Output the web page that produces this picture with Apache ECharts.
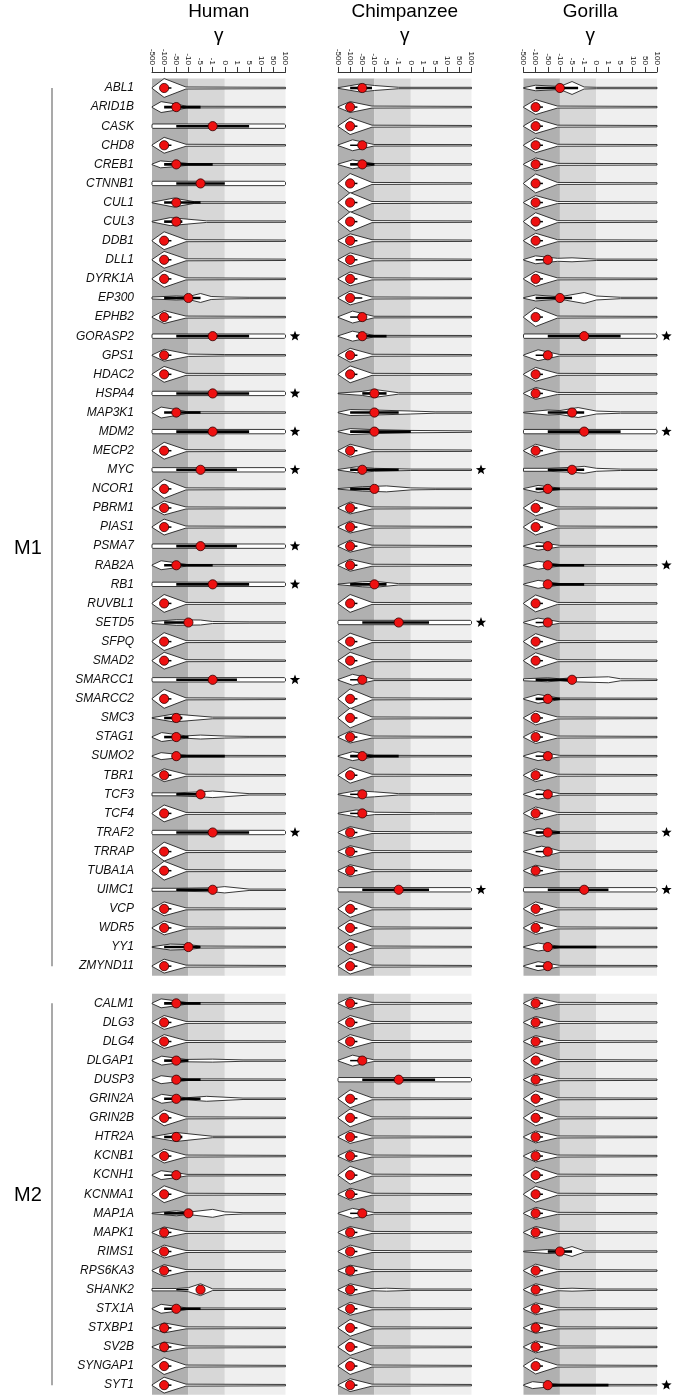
<!DOCTYPE html>
<html><head><meta charset="utf-8">
<script src="https://cdn.jsdelivr.net/npm/echarts@6/dist/echarts.min.js"></script>
<style>html,body{margin:0;padding:0;background:#fff}#c{width:675px;height:1399px}</style>
</head><body><div id="c"></div>
<script>
// ---------- data ----------
const TICKS = [-500,-100,-50,-10,-5,-1,0,1,5,10,50,100];
const TICK_LABELS = ['-500','-100','-50','-10','-5','-1','0','1','5','10','50','100'];
const SPECIES = ['Human','Chimpanzee','Gorilla'];
const MODULES = ['M1','M2'];
const BANDS = [[-500,-10],[-10,0],[0,100]];
const GENES_M1 = ['ABL1','ARID1B','CASK','CHD8','CREB1','CTNNB1','CUL1','CUL3','DDB1','DLL1','DYRK1A','EP300','EPHB2','GORASP2','GPS1','HDAC2','HSPA4','MAP3K1','MDM2','MECP2','MYC','NCOR1','PBRM1','PIAS1','PSMA7','RAB2A','RB1','RUVBL1','SETD5','SFPQ','SMAD2','SMARCC1','SMARCC2','SMC3','STAG1','SUMO2','TBR1','TCF3','TCF4','TRAF2','TRRAP','TUBA1A','UIMC1','VCP','WDR5','YY1','ZMYND11'];
const GENES_M2 = ['CALM1','DLG3','DLG4','DLGAP1','DUSP3','GRIN2A','GRIN2B','HTR2A','KCNB1','KCNH1','KCNMA1','MAP1A','MAPK1','RIMS1','RPS6KA3','SHANK2','STX1A','STXBP1','SV2B','SYNGAP1','SYT1'];

// density profile templates: [gamma, relative half-width]
const SHAPES = {
  D: [[-500,.03],[-100,1],[-18,.1],[100,.07]],
  K: [[-500,.03],[-90,1],[-12,.08],[100,.07]],
  A: [[-500,.03],[-200,1],[-50,.55],[-15,.08],[100,.07]],
  S: [[-500,.12],[-480,.22],[95,.22],[100,.12]]
};
// each entry: [profile, scale, median, q1, q3]
const HUMAN_M1 = [
 ['D',.95,-100,-100,-70],
 ['A',.55,-50,-100,-5],
 ['S',1,-1,-50,5],
 ['D',.8,-100,-100,-70],
 [[[-500,.03],[-220,.35],[-50,.22],[-10,.08],[100,.07]],1,-50,-100,-1],
 ['S',1,-5,-50,0],
 [[[-500,.03],[-60,.45],[-7.5,.08],[100,.07]],1,-50,-100,-5],
 [[[-500,.03],[-75,.4],[-3,.08],[100,.07]],1,-50,-100,-30],
 ['D',.9,-100,-100,-70],
 ['D',.85,-100,-100,-70],
 ['D',.85,-100,-100,-70],
 [[[-500,.1],[-50,.2],[-10,.15],[-5,.45],[-1.5,.15],[0,.1],[5,.07],[100,.07]],1,-10,-100,-5],
 ['D',.65,-100,-100,-70],
 ['S',1,-1,-50,5],
 [[[-500,.03],[-100,.6],[-10,.12],[0,.07],[100,.07]],1,-100,-100,-70],
 ['D',.8,-100,-100,-70],
 ['S',1,-1,-50,5],
 ['A',.55,-50,-100,-5],
 ['S',1,-1,-50,5],
 ['D',.85,-100,-100,-70],
 ['S',1,-5,-50,1],
 ['D',.95,-100,-100,-70],
 ['D',.7,-100,-100,-70],
 ['D',.8,-100,-100,-70],
 ['S',1,-5,-50,1],
 ['A',.45,-50,-100,-1],
 ['S',1,-1,-50,5],
 ['D',.9,-100,-100,-70],
 [[[-500,.1],[-50,.28],[-5,.25],[-1,.1],[5,.07],[100,.07]],1,-10,-100,-10],
 ['D',.9,-100,-100,-70],
 ['D',.85,-100,-100,-70],
 ['S',1,-1,-50,1],
 ['D',.95,-100,-100,-70],
 [[[-500,.03],[-60,.4],[-1,.08],[100,.07]],1,-50,-100,-30],
 [[[-500,.03],[-180,.45],[-18,.12],[-5,.2],[0,.1],[5,.07],[100,.07]],1,-50,-100,-10],
 ['A',.35,-50,-50,0],
 ['D',.65,-100,-100,-70],
 [[[-500,.15],[-50,.15],[-5,.25],[-1,.33],[5,.07],[100,.07]],1,-5,-50,-5],
 ['D',.85,-100,-100,-70],
 ['S',1,-1,-50,5],
 ['D',.95,-100,-100,-70],
 ['D',.95,-100,-100,-70],
 [[[-500,.15],[-50,.15],[-1,.2],[0,.32],[5,.07],[100,.07]],1,-1,-50,-1],
 ['D',.7,-100,-100,-70],
 ['D',.7,-100,-100,-70],
 [[[-500,.03],[-75,.3],[-10,.25],[-5,.1],[100,.07]],1,-10,-100,-5],
 ['D',.7,-100,-100,-70]
];
const CHIMP_M1 = [
 [[[-500,.03],[-60,.4],[-10,.25],[-1,.07],[100,.07]],1,-50,-100,-18],
 ['D',.55,-100,-100,-70],
 ['D',.85,-100,-100,-70],
 ['K',.55,-50,-100,-50],
 ['K',.45,-50,-100,-10],
 ['D',1,-100,-100,-70],
 ['D',1,-100,-100,-70],
 ['D',1,-100,-100,-70],
 ['D',.7,-100,-100,-70],
 ['D',.7,-100,-100,-70],
 ['D',.7,-100,-100,-70],
 ['D',.7,-100,-100,-50],
 ['K',.6,-50,-100,-50],
 ['K',.5,-50,-75,-5],
 ['D',.7,-100,-100,-70],
 ['D',.85,-100,-100,-70],
 [[[-500,.03],[-50,.2],[-10,.4],[-1,.07],[100,.07]],1,-10,-50,-5],
 [[[-500,.03],[-100,.3],[-10,.25],[0,.15],[5,.07],[100,.07]],1,-10,-100,-1],
 [[[-500,.03],[-100,.3],[-10,.2],[0,.12],[100,.07]],1,-10,-100,0],
 ['D',.65,-100,-100,-70],
 [[[-500,.03],[-75,.3],[-10,.15],[0,.07],[100,.07]],1,-50,-100,-1],
 [[[-500,.03],[-50,.22],[-5,.3],[0,.1],[5,.07],[100,.07]],1,-10,-100,-10],
 ['D',.6,-100,-100,-70],
 ['D',.6,-100,-100,-70],
 ['D',.6,-100,-100,-70],
 ['D',.6,-100,-100,-70],
 [[[-500,.03],[-50,.25],[-10,.3],[-1,.07],[100,.07]],1,-10,-100,-5],
 ['D',.9,-100,-100,-70],
 ['S',1,-1,-50,3],
 ['D',.85,-100,-100,-70],
 ['D',.85,-100,-100,-70],
 ['K',.55,-50,-100,-50],
 ['D',1,-100,-100,-70],
 ['D',1,-100,-100,-70],
 ['D',.6,-100,-100,-70],
 ['K',.45,-50,-100,-1],
 ['D',.8,-100,-100,-70],
 [[[-500,.03],[-75,.35],[-10,.25],[-1,.07],[100,.07]],1,-50,-100,-50],
 [[[-500,.03],[-75,.35],[-10,.12],[5,.07],[100,.07]],1,-50,-100,-50],
 ['D',.6,-100,-100,-70],
 ['D',.6,-100,-100,-70],
 ['D',.6,-100,-100,-70],
 ['S',1,-1,-50,3],
 ['D',.85,-100,-100,-70],
 ['D',.8,-100,-100,-70],
 ['D',.8,-100,-100,-70],
 ['D',.8,-100,-100,-70]
];
const GORILLA_M1 = [
 [[[-500,.03],[-100,.28],[-10,.15],[-5,.65],[-1,.1],[0,.07],[100,.07]],1,-10,-100,-3],
 ['D',.75,-100,-100,-70],
 ['D',.75,-100,-100,-70],
 ['D',.75,-100,-100,-70],
 ['D',.65,-100,-100,-70],
 ['D',.95,-100,-100,-70],
 ['D',.7,-100,-100,-70],
 ['D',.9,-100,-100,-70],
 ['D',.75,-100,-100,-70],
 [[[-500,.03],[-100,.4],[-18,.15],[-5,.2],[0,.07],[100,.07]],1,-50,-100,-50],
 ['D',.75,-100,-100,-70],
 [[[-500,.03],[-100,.3],[-10,.12],[-1,.55],[0,.2],[5,.07],[100,.07]],1,-10,-100,-5],
 ['D',.95,-100,-100,-70],
 ['S',1,-1,-50,5],
 ['K',.55,-50,-100,-50],
 ['D',.7,-100,-100,-70],
 ['D',.6,-100,-100,-70],
 [[[-500,.03],[-50,.25],[-10,.2],[-3,.5],[0,.15],[5,.07],[100,.07]],1,-5,-50,-1],
 ['S',1,-1,-50,5],
 ['D',.65,-100,-100,-70],
 [[[-500,.15],[-50,.15],[-5,.25],[-1,.35],[0,.15],[5,.07],[100,.07]],1,-5,-50,-1],
 ['K',.35,-50,-100,-10],
 ['D',.8,-100,-100,-70],
 ['D',.8,-100,-100,-70],
 ['K',.4,-50,-100,-50],
 ['K',.4,-50,-50,-1],
 ['K',.4,-50,-50,-1],
 ['D',.85,-100,-100,-70],
 ['K',.45,-50,-100,-50],
 ['D',.8,-100,-100,-70],
 ['D',.8,-100,-100,-70],
 [[[-500,.1],[-50,.2],[-10,.1],[-5,.2],[1,.3],[5,.1],[100,.07]],1,-5,-100,-5],
 ['K',.45,-50,-100,-10],
 ['D',.7,-100,-100,-70],
 ['D',.65,-100,-100,-70],
 ['K',.45,-50,-100,-50],
 ['D',.65,-100,-100,-70],
 ['K',.5,-50,-100,-50],
 ['D',.65,-100,-100,-70],
 ['K',.4,-50,-100,-10],
 [[[-500,.03],[-75,.55],[-10,.08],[100,.07]],1,-50,-100,-50],
 ['D',.55,-100,-100,-70],
 ['S',1,-1,-50,1],
 ['D',.7,-100,-100,-70],
 ['D',.65,-100,-100,-70],
 ['K',.4,-50,-50,0],
 ['K',.45,-50,-100,-50]
];
const HUMAN_M2 = [
 ['A',.45,-50,-100,-5],
 ['D',.7,-100,-100,-70],
 ['D',.7,-100,-100,-70],
 [[[-500,.03],[-180,.45],[-18,.12],[-1,.15],[3,.07],[100,.07]],1,-50,-100,-10],
 ['A',.4,-50,-50,-5],
 [[[-500,.03],[-180,.45],[-18,.1],[-3,.25],[3,.07],[100,.07]],1,-50,-100,-5],
 ['D',.8,-100,-100,-70],
 [[[-500,.03],[-50,.45],[-1,.07],[100,.07]],1,-50,-100,-30],
 ['D',.7,-100,-100,-70],
 ['A',.45,-50,-100,-50],
 ['D',.85,-100,-100,-70],
 [[[-500,.03],[-50,.25],[-10,.12],[-1,.4],[0,.15],[3,.07],[100,.07]],1,-10,-100,-10],
 ['D',.55,-100,-100,-70],
 ['D',.65,-100,-100,-70],
 ['D',.6,-100,-100,-70],
 [[[-500,.12],[-50,.12],[-10,.2],[-5,.6],[-1,.08],[100,.07]],1,-5,-50,-10],
 ['A',.45,-50,-100,-5],
 ['D',.5,-100,-100,-70],
 ['D',.5,-100,-100,-70],
 ['D',.85,-100,-100,-70],
 ['D',.8,-100,-100,-70]
];
const CHIMP_M2 = [
 ['D',.6,-100,-100,-70],
 ['D',.7,-100,-100,-70],
 ['D',.7,-100,-100,-70],
 ['K',.55,-50,-100,-50],
 ['S',1,-1,-50,5],
 ['D',.9,-100,-100,-70],
 ['D',.9,-100,-100,-70],
 ['D',.65,-100,-100,-70],
 ['D',.6,-100,-100,-70],
 ['D',.9,-100,-100,-70],
 ['D',.6,-100,-100,-70],
 ['K',.5,-50,-100,-50],
 ['D',.6,-100,-100,-70],
 ['D',.65,-100,-100,-70],
 ['D',.55,-100,-100,-70],
 [[[-500,.03],[-100,.6],[-18,.1],[-5,.15],[0,.07],[100,.07]],1,-100,-100,-70],
 ['D',.65,-100,-100,-70],
 ['D',.85,-100,-100,-70],
 ['D',.85,-100,-100,-70],
 ['D',.85,-100,-100,-70],
 ['D',.65,-100,-100,-70]
];
const GORILLA_M2 = [
 ['D',.6,-100,-100,-70],
 ['D',.6,-100,-100,-70],
 ['D',.6,-100,-100,-70],
 ['D',.8,-100,-100,-70],
 ['D',.6,-100,-100,-70],
 ['D',.8,-100,-100,-70],
 ['D',.8,-100,-100,-70],
 ['D',.6,-100,-100,-70],
 ['D',.6,-100,-100,-70],
 ['D',.8,-100,-100,-70],
 ['D',.8,-100,-100,-70],
 ['D',.6,-100,-100,-70],
 ['D',.6,-100,-100,-70],
 [[[-500,.03],[-50,.2],[-10,.15],[-5,.5],[-1,.07],[100,.07]],1,-10,-50,-5],
 ['D',.65,-100,-100,-70],
 [[[-500,.03],[-100,.6],[-18,.1],[-5,.15],[0,.07],[100,.07]],1,-100,-100,-70],
 ['D',.6,-100,-100,-70],
 ['D',.55,-100,-100,-70],
 ['D',.6,-100,-100,-70],
 ['D',.8,-100,-100,-70],
 ['A',.35,-50,-50,1]
];
const STARS = {
  Human: ['GORASP2','HSPA4','MDM2','MYC','PSMA7','RB1','SMARCC1','TRAF2'],
  Chimpanzee: ['MYC','SETD5','UIMC1'],
  Gorilla: ['GORASP2','MDM2','RAB2A','TRAF2','UIMC1','SYT1']
};
const DATA = {
  M1: [HUMAN_M1, CHIMP_M1, GORILLA_M1],
  M2: [HUMAN_M2, CHIMP_M2, GORILLA_M2]
};
const GENES = {M1: GENES_M1, M2: GENES_M2};

// ---------- layout / style ----------
const BAND_COLORS = ['#b0b0b0','#d7d7d7','#efefef'];
const PANEL_LEFT = [152, 338, 523.5];
const PANEL_W = 133.5;
const ROW = 19.09;
const MOD_TOP = {M1: 78.45, M2: 993.8};
const MOD_LABEL_Y = {M1: 548, M2: 1195};
const FONT = '"Liberation Sans", Arial, sans-serif';

function gpos(g){
  for (let i = 0; i < TICKS.length - 1; i++) {
    if (g <= TICKS[i+1]) return i + (g - TICKS[i]) / (TICKS[i+1] - TICKS[i]);
  }
  return TICKS.length - 1;
}
function starPts(cx, cy, R, r){
  const p = [];
  for (let k = 0; k < 10; k++) {
    const a = -Math.PI/2 + k*Math.PI/5;
    const rr = k % 2 ? r : R;
    p.push([cx + rr*Math.cos(a), cy + rr*Math.sin(a)]);
  }
  return p;
}

const grids = [], xAxes = [], yAxes = [], series = [];
let gi = 0;
MODULES.forEach(mod => {
  const genes = GENES[mod];
  SPECIES.forEach((sp, si) => {
    grids.push({left: PANEL_LEFT[si], width: PANEL_W, top: MOD_TOP[mod], height: genes.length*ROW});
    xAxes.push({
      gridIndex: gi, type: 'value', min: 0, max: TICKS.length-1, interval: 1,
      position: 'top', offset: 6.5, show: mod === 'M1',
      axisLine: {show: true, lineStyle: {color: '#333', width: 1}},
      axisTick: {show: true, length: 5, inside: false, lineStyle: {color: '#333'}},
      axisLabel: {show: true, rotate: 90, fontSize: 8, margin: 7, color: '#111', fontFamily: FONT,
        formatter: v => TICK_LABELS[v] !== undefined ? TICK_LABELS[v] : ''},
      splitLine: {show: false}
    });
    yAxes.push({
      gridIndex: gi, type: 'category', data: genes, inverse: true,
      axisLine: {show: false}, axisTick: {show: false}, splitLine: {show: false},
      axisLabel: {show: si === 0, fontStyle: 'italic', fontSize: 12, color: '#111', margin: 18, fontFamily: FONT, interval: 0}
    });
    // background bands
    series.push({
      type: 'custom', xAxisIndex: gi, yAxisIndex: gi, silent: true, z: 1,
      data: BANDS.map(b => [gpos(b[0]), gpos(b[1])]),
      encode: {x: [0,1]},
      renderItem: (params, api) => {
        const cs = params.coordSys;
        const a = api.coord([api.value(0), 0])[0];
        const b = api.coord([api.value(1), 0])[0];
        return {type: 'rect', shape: {x: a, y: cs.y, width: b - a, height: cs.height},
                style: {fill: BAND_COLORS[params.dataIndex]}};
      }
    });
    const entries = DATA[mod][si];
    const stars = STARS[sp];
    series.push({
      type: 'custom', xAxisIndex: gi, yAxisIndex: gi, z: 5, clip: false, silent: true,
      data: entries.map((e, i) => [gpos(e[2]), i]),
      encode: {x: 0, y: 1},
      renderItem: (params, api) => {
        const i = params.dataIndex;
        const e = entries[i];
        const yc = api.coord([0, i])[1];
        const H = api.size([0, 1])[1] * 0.52;
        const knots = typeof e[0] === 'string' ? SHAPES[e[0]] : e[0];
        const s = e[1];
        const top = [], bot = [];
        knots.forEach(([g, w]) => {
          const ww = (w > 0.12 ? w * s : w) * H;
          const x = api.coord([gpos(g), i])[0];
          top.push([x, yc - ww]); bot.push([x, yc + ww]);
        });
        const pts = top.concat(bot.reverse());
        const xm = api.coord([gpos(e[2]), i])[0];
        const x1 = api.coord([gpos(e[3]), i])[0];
        const x2 = api.coord([gpos(e[4]), i])[0];
        const span = Math.abs(gpos(e[4]) - gpos(e[3]));
        const children = [
          {type: 'polygon', shape: {points: pts}, style: {fill: '#fff', stroke: '#222', lineWidth: 0.9}},
          {type: 'line', shape: {x1: x1, y1: yc, x2: x2, y2: yc}, style: {stroke: '#000', lineWidth: span > 1.2 ? 2.6 : 1.5}},
          {type: 'circle', shape: {cx: xm, cy: yc, r: 4.6}, style: {fill: '#ee1111', stroke: '#330000', lineWidth: 0.8}}
        ];
        if (stars.indexOf(genes[i]) >= 0) {
          const xr = api.coord([TICKS.length - 1, i])[0] + 9.5;
          children.push({type: 'polygon', shape: {points: starPts(xr, yc, 5.4, 2.3)}, style: {fill: '#000'}});
        }
        return {type: 'group', children: children};
      }
    });
    gi++;
  });
});

// titles, gamma labels, module brackets
const graphic = [];
SPECIES.forEach((sp, si) => {
  const cx = PANEL_LEFT[si] + PANEL_W/2;
  graphic.push({type: 'text', x: cx, y: 12, style: {text: sp, fontSize: 19, fontFamily: FONT, fill: '#000', textAlign: 'center', textVerticalAlign: 'middle'}});
  graphic.push({type: 'text', x: cx, y: 36, style: {text: 'γ', fontSize: 19, fontFamily: FONT, fill: '#000', textAlign: 'center', textVerticalAlign: 'middle'}});
});
MODULES.forEach(mod => {
  const n = GENES[mod].length;
  const y1 = MOD_TOP[mod] + ROW/2, y2 = MOD_TOP[mod] + (n - 0.5)*ROW;
  graphic.push({type: 'line', shape: {x1: 52, y1: y1, x2: 52, y2: y2}, style: {stroke: '#8c8c8c', lineWidth: 1.5}});
  graphic.push({type: 'text', x: 28, y: MOD_LABEL_Y[mod], style: {text: mod, fontSize: 20, fontFamily: FONT, fill: '#000', textAlign: 'center', textVerticalAlign: 'middle'}});
});

const chart = echarts.init(document.getElementById('c'), null, {renderer: 'canvas'});
chart.setOption({
  animation: false,
  backgroundColor: '#fff',
  grid: grids, xAxis: xAxes, yAxis: yAxes, series: series, graphic: graphic
});
</script>
</body></html>
